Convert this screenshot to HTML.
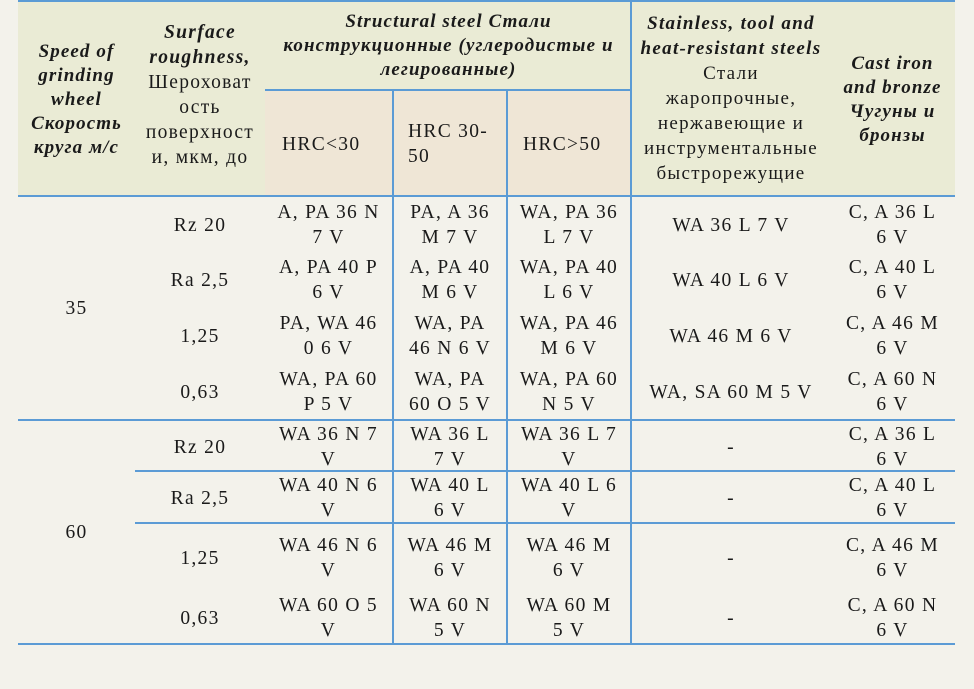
<!DOCTYPE html>
<html><head><meta charset="utf-8"><style>
body{margin:0;background:#f3f2eb;}
#t{position:relative;width:974px;height:689px;background:#f3f2eb;font-family:"Liberation Serif","DejaVu Serif",serif;color:#1a1a1a;overflow:hidden}
.c{position:absolute;display:flex;align-items:center;justify-content:center;text-align:center;font-size:19.5px;line-height:25px;letter-spacing:1.3px;white-space:nowrap}
.h{font-weight:bold;font-style:italic;font-size:19px;line-height:24px;letter-spacing:1.1px}
.hl{position:absolute;height:2px;background:#5b9bd5}
.vl{position:absolute;width:2px;background:#5b9bd5}
</style></head><body>
<div id="t">
<div style="position:absolute;left:18px;top:1px;width:937px;height:195px;background:#eaebd5"></div>
<div style="position:absolute;left:265px;top:90px;width:367px;height:106px;background:#efe6d6"></div>

<div class="hl" style="left:18px;top:0;width:937px"></div>
<div class="hl" style="left:265px;top:89px;width:367px"></div>
<div class="hl" style="left:18px;top:195px;width:937px"></div>
<div class="hl" style="left:18px;top:419px;width:937px"></div>
<div class="hl" style="left:135px;top:470px;width:820px"></div>
<div class="hl" style="left:135px;top:522px;width:820px"></div>
<div class="hl" style="left:18px;top:643px;width:937px"></div>
<div class="vl" style="left:392px;top:90px;height:555px"></div>
<div class="vl" style="left:506px;top:90px;height:555px"></div>
<div class="vl" style="left:630px;top:0;height:645px"></div>

<div class="c h" style="left:18px;top:30px;width:117px;height:140px">Speed of<br>grinding<br>wheel<br>Скорость<br>круга м/с</div>
<div class="c" style="left:135px;top:20px;width:130px;height:150px;line-height:25px"><div><b><i>Surface<br>roughness,</i></b><br>Шероховат<br>ость<br>поверхност<br>и, мкм, до</div></div>
<div class="c h" style="left:265px;top:8px;width:367px;height:76px">Structural steel Стали<br>конструкционные (углеродистые и<br>легированные)</div>
<div class="c" style="left:265px;top:92px;width:127px;height:104px;justify-content:flex-start;padding-left:17px;box-sizing:border-box">HRC&lt;30</div>
<div class="c" style="left:394px;top:92px;width:112px;height:104px;justify-content:flex-start;padding-left:14px;box-sizing:border-box;text-align:left">HRC 30-<br>50</div>
<div class="c" style="left:508px;top:92px;width:122px;height:104px;justify-content:flex-start;padding-left:15px;box-sizing:border-box">HRC&gt;50</div>
<div class="c" style="left:632px;top:8px;width:198px;height:180px;font-size:19px;line-height:25px"><div><b><i>Stainless, tool and<br>heat-resistant steels</i></b><br>Стали<br>жаропрочные,<br>нержавеющие и<br>инструментальные<br>быстрорежущие</div></div>
<div class="c h" style="left:830px;top:40px;width:125px;height:120px">Cast iron<br>and bronze<br>Чугуны и<br>бронзы</div>

<div class="c" style="left:18px;top:280px;width:117px;height:56px">35</div>
<div class="c" style="left:18px;top:504px;width:117px;height:56px">60</div>

<div class="c" style="left:135px;top:197px;width:130px;height:56px">Rz 20</div>
<div class="c" style="left:265px;top:197px;width:127px;height:56px">A, PA 36 N<br>7 V</div>
<div class="c" style="left:394px;top:197px;width:112px;height:56px">PA, A 36<br>M 7 V</div>
<div class="c" style="left:508px;top:197px;width:122px;height:56px">WA, PA 36<br>L 7 V</div>
<div class="c" style="left:632px;top:197px;width:198px;height:56px">WA 36 L 7 V</div>
<div class="c" style="left:830px;top:197px;width:125px;height:56px">C, A 36 L<br>6 V</div>

<div class="c" style="left:135px;top:252px;width:130px;height:56px">Ra 2,5</div>
<div class="c" style="left:265px;top:252px;width:127px;height:56px">A, PA 40 P<br>6 V</div>
<div class="c" style="left:394px;top:252px;width:112px;height:56px">A, PA 40<br>M 6 V</div>
<div class="c" style="left:508px;top:252px;width:122px;height:56px">WA, PA 40<br>L 6 V</div>
<div class="c" style="left:632px;top:252px;width:198px;height:56px">WA 40 L 6 V</div>
<div class="c" style="left:830px;top:252px;width:125px;height:56px">C, A 40 L<br>6 V</div>

<div class="c" style="left:135px;top:308px;width:130px;height:56px">1,25</div>
<div class="c" style="left:265px;top:308px;width:127px;height:56px">PA, WA 46<br>0 6 V</div>
<div class="c" style="left:394px;top:308px;width:112px;height:56px">WA, PA<br>46 N 6 V</div>
<div class="c" style="left:508px;top:308px;width:122px;height:56px">WA, PA 46<br>M 6 V</div>
<div class="c" style="left:632px;top:308px;width:198px;height:56px">WA 46 M 6 V</div>
<div class="c" style="left:830px;top:308px;width:125px;height:56px">C, A 46 M<br>6 V</div>

<div class="c" style="left:135px;top:364px;width:130px;height:56px">0,63</div>
<div class="c" style="left:265px;top:364px;width:127px;height:56px">WA, PA 60<br>P 5 V</div>
<div class="c" style="left:394px;top:364px;width:112px;height:56px">WA, PA<br>60 O 5 V</div>
<div class="c" style="left:508px;top:364px;width:122px;height:56px">WA, PA 60<br>N 5 V</div>
<div class="c" style="left:632px;top:364px;width:198px;height:56px">WA, SA 60 M 5 V</div>
<div class="c" style="left:830px;top:364px;width:125px;height:56px">C, A 60 N<br>6 V</div>

<div class="c" style="left:135px;top:419px;width:130px;height:56px">Rz 20</div>
<div class="c" style="left:265px;top:419px;width:127px;height:56px">WA 36 N 7<br>V</div>
<div class="c" style="left:394px;top:419px;width:112px;height:56px">WA 36 L<br>7 V</div>
<div class="c" style="left:508px;top:419px;width:122px;height:56px">WA 36 L 7<br>V</div>
<div class="c" style="left:632px;top:419px;width:198px;height:56px">-</div>
<div class="c" style="left:830px;top:419px;width:125px;height:56px">C, A 36 L<br>6 V</div>

<div class="c" style="left:135px;top:470px;width:130px;height:56px">Ra 2,5</div>
<div class="c" style="left:265px;top:470px;width:127px;height:56px">WA 40 N 6<br>V</div>
<div class="c" style="left:394px;top:470px;width:112px;height:56px">WA 40 L<br>6 V</div>
<div class="c" style="left:508px;top:470px;width:122px;height:56px">WA 40 L 6<br>V</div>
<div class="c" style="left:632px;top:470px;width:198px;height:56px">-</div>
<div class="c" style="left:830px;top:470px;width:125px;height:56px">C, A 40 L<br>6 V</div>

<div class="c" style="left:135px;top:530px;width:130px;height:56px">1,25</div>
<div class="c" style="left:265px;top:530px;width:127px;height:56px">WA 46 N 6<br>V</div>
<div class="c" style="left:394px;top:530px;width:112px;height:56px">WA 46 M<br>6 V</div>
<div class="c" style="left:508px;top:530px;width:122px;height:56px">WA 46 M<br>6 V</div>
<div class="c" style="left:632px;top:530px;width:198px;height:56px">-</div>
<div class="c" style="left:830px;top:530px;width:125px;height:56px">C, A 46 M<br>6 V</div>

<div class="c" style="left:135px;top:590px;width:130px;height:56px">0,63</div>
<div class="c" style="left:265px;top:590px;width:127px;height:56px">WA 60 O 5<br>V</div>
<div class="c" style="left:394px;top:590px;width:112px;height:56px">WA 60 N<br>5 V</div>
<div class="c" style="left:508px;top:590px;width:122px;height:56px">WA 60 M<br>5 V</div>
<div class="c" style="left:632px;top:590px;width:198px;height:56px">-</div>
<div class="c" style="left:830px;top:590px;width:125px;height:56px">C, A 60 N<br>6 V</div>
</div>
</body></html>
